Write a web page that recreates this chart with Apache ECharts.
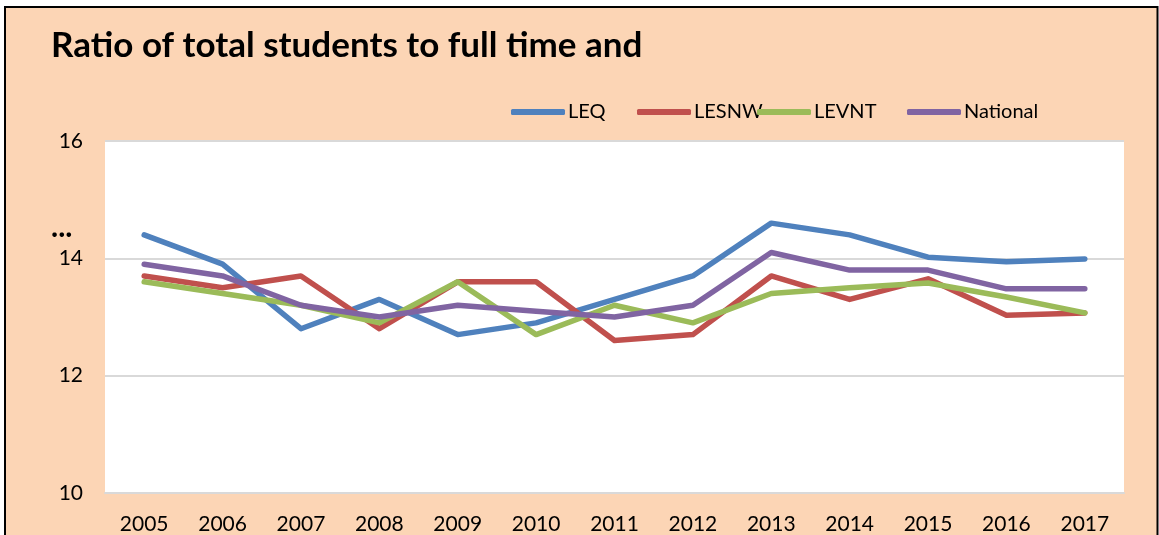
<!DOCTYPE html>
<html>
<head>
<meta charset="utf-8">
<style>
  html, body { margin: 0; padding: 0; background: #ffffff; }
  #chart { width: 1159px; height: 535px; }
</style>
<script src="https://cdn.jsdelivr.net/npm/echarts@6/dist/echarts.min.js"></script>
</head>
<body>
<div id="chart"></div>
<script>
// Years on the category axis
const years = ['2005', '2006', '2007', '2008', '2009', '2010', '2011',
               '2012', '2013', '2014', '2015', '2016', '2017'];

// Student-to-staff ratio per region
const leq      = [14.4, 13.9, 12.8, 13.3, 12.7, 12.9, 13.3, 13.7, 14.6, 14.4, 14.02, 13.94, 13.99];
const lesnw    = [13.7, 13.5, 13.7, 12.8, 13.6, 13.6, 12.6, 12.7, 13.7, 13.3, 13.65, 13.03, 13.07];
const levnt    = [13.6, 13.4, 13.2, 12.9, 13.6, 12.7, 13.2, 12.9, 13.4, 13.5, 13.58, 13.34, 13.07];
const national = [13.9, 13.7, 13.2, 13.0, 13.2, 13.1, 13.0, 13.2, 14.1, 13.8, 13.8, 13.48, 13.48];

const seriesNames  = ['LEQ', 'LESNW', 'LEVNT', 'National'];
const seriesColors = ['#4F81BD', '#C0504D', '#9BBB59', '#8064A2'];
const seriesData   = [leq, lesnw, levnt, national];

// Y axis range and step
const yMin = 10, yMax = 16, yStep = 2;

const FONT = 'Lato, "Open Sans", sans-serif';

const chart = echarts.init(document.getElementById('chart'), null, { renderer: 'canvas' });

// One legend block per series so each entry sits at its own position
const legendLefts = [511, 637, 757, 907];
const legends = seriesNames.map((name, i) => ({
  data: [name],
  left: legendLefts[i],
  top: 102,
  itemWidth: 54,
  itemHeight: 6,
  itemGap: 0,
  padding: 0,
  icon: 'roundRect',
  textStyle: { fontFamily: FONT, fontSize: 20, color: '#000', padding: [0, 0, 0, -2] }
}));

chart.setOption({
  backgroundColor: '#ffffff',
  animation: false,
  color: seriesColors,
  graphic: [
    {
      type: 'rect',
      z: -10,
      silent: true,
      shape: { x: 5, y: 7, width: 1152.5, height: 540 },
      style: { fill: '#FCD5B5', stroke: '#000000', lineWidth: 2 }
    },
    {
      type: 'text',
      left: 51,
      top: 212,
      silent: true,
      style: { text: '...', fontFamily: FONT, fontSize: 30, fontWeight: 'bold', fill: '#000' }
    }
  ],
  title: {
    text: 'Ratio of total students to full time and',
    left: 51,
    top: 28,
    padding: 0,
    textStyle: { fontFamily: FONT, fontSize: 35, fontWeight: 'bold', color: '#000' }
  },
  legend: legends,
  grid: {
    left: 105,
    right: 35,
    top: 141,
    bottom: 42,
    show: true,
    backgroundColor: '#ffffff',
    borderWidth: 0
  },
  xAxis: {
    type: 'category',
    data: years,
    boundaryGap: true,
    axisLine: { show: true, lineStyle: { color: '#D9D9D9', width: 2 } },
    axisTick: { show: false },
    axisLabel: { fontFamily: FONT, fontSize: 21, color: '#000', margin: 21 }
  },
  yAxis: {
    type: 'value',
    min: yMin,
    max: yMax,
    interval: yStep,
    axisLine: { show: false },
    axisTick: { show: false },
    axisLabel: { fontFamily: FONT, fontSize: 21, color: '#000', margin: 22 },
    splitLine: { show: true, lineStyle: { color: '#D9D9D9', width: 2 } }
  },
  series: seriesNames.map((name, i) => ({
    name: name,
    type: 'line',
    data: seriesData[i],
    symbol: 'none',
    lineStyle: { width: 5.5, color: seriesColors[i], cap: 'round', join: 'round' },
    itemStyle: { color: seriesColors[i] }
  }))
});
</script>
</body>
</html>
